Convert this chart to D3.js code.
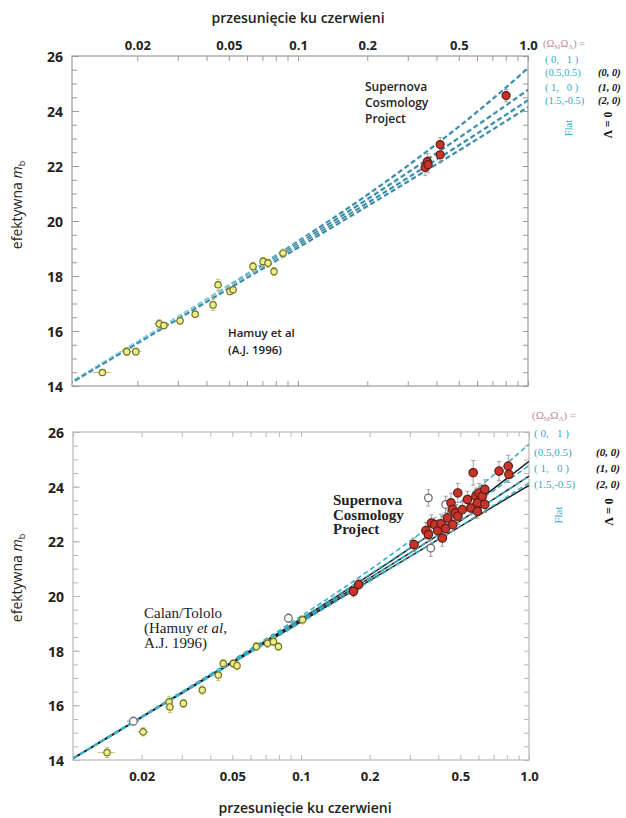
<!DOCTYPE html>
<html>
<head>
<meta charset="utf-8">
<script src="https://cdn.jsdelivr.net/npm/d3@7"></script>
<style>
  body { margin: 0; background: #fff; }
  svg { display: block; }
  text { font-family: "Open Sans", sans-serif; fill: #222; }
  .serif { font-family: "Liberation Serif", "DejaVu Serif", serif; }
  .tick text { font-weight: 700; }
</style>
</head>
<body>
<svg id="chart" width="626" height="818"></svg>
<script>

// Model curves, magnitude at each redshift for (Omega_M, Omega_Lambda)
var modelZ     = [0.01, 0.02, 0.05, 0.1, 0.2, 0.3, 0.5, 0.7, 1.0];
var flat_0_1   = [14.07, 15.60, 17.65, 19.26, 20.95, 22.01, 23.43, 24.43, 25.56];
var flat_05_05 = [14.06, 15.58, 17.61, 19.18, 20.79, 21.76, 23.02, 23.86, 24.77];
var flat_1_0   = [14.06, 15.57, 17.57, 19.10, 20.65, 21.57, 22.75, 23.54, 24.39];
var flat_15_m05= [14.05, 15.55, 17.54, 19.03, 20.54, 21.43, 22.56, 23.32, 24.14];
var open_0_0   = [14.06, 15.58, 17.60, 19.16, 20.76, 21.74, 23.03, 23.93, 24.93];
var open_1_0   = [14.06, 15.57, 17.57, 19.10, 20.65, 21.57, 22.75, 23.54, 24.39];
var open_2_0   = [14.05, 15.56, 17.55, 19.05, 20.56, 21.44, 22.55, 23.28, 24.05];

// Top panel: Hamuy et al low-z sample
var topLowZ   = [0.0141, 0.0180, 0.0197, 0.0249, 0.0261, 0.0307, 0.0357, 0.0427, 0.0449, 0.0506, 0.0522, 0.0637, 0.0705, 0.0740, 0.0786, 0.0861];
var topLowM   = [14.49, 15.25, 15.25, 16.26, 16.20, 16.37, 16.61, 16.95, 17.68, 17.44, 17.50, 18.35, 18.53, 18.47, 18.16, 18.83];
var topLowErr = [0.10, 0.15, 0.12, 0.15, 0.12, 0.12, 0.12, 0.20, 0.20, 0.12, 0.12, 0.15, 0.15, 0.15, 0.15, 0.15];

// Top panel: first Supernova Cosmology Project supernovae
var topScpZ   = [0.357, 0.365, 0.368, 0.415, 0.415, 0.803];
var topScpM   = [21.95, 22.16, 22.05, 22.78, 22.41, 24.56];
var topScpErr = [0.30, 0.30, 0.30, 0.25, 0.30, 0.22];

// Bottom panel: Calan/Tololo sample
var botLowZ   = [0.0141, 0.0203, 0.0264, 0.0266, 0.0305, 0.0369, 0.0434, 0.0456, 0.0505, 0.0524, 0.0637, 0.0713, 0.0757, 0.0796, 0.1016];
var botLowM   = [14.27, 15.03, 16.13, 15.94, 16.07, 16.56, 17.11, 17.53, 17.53, 17.45, 18.15, 18.27, 18.33, 18.15, 19.13];
var botLowErr = [0.18, 0.15, 0.20, 0.20, 0.15, 0.15, 0.20, 0.15, 0.15, 0.15, 0.15, 0.15, 0.15, 0.15, 0.15];
var botLowOutZ = [0.0184, 0.0881];
var botLowOutM = [15.42, 19.19];

// Bottom panel: Supernova Cosmology Project
var botScpZ   = [0.170, 0.179, 0.313, 0.353, 0.362, 0.373, 0.386, 0.398, 0.411, 0.417,
                 0.431, 0.439, 0.455, 0.463, 0.463, 0.475, 0.487, 0.487, 0.510, 0.537,
                 0.556, 0.569, 0.585, 0.594, 0.594, 0.604, 0.624, 0.640, 0.640, 0.739,
                 0.811, 0.816];
var botScpM   = [20.17, 20.42, 21.88, 22.39, 22.25, 22.67, 22.61, 22.39, 22.64, 22.12,
                 22.47, 22.86, 23.41, 23.16, 22.61, 23.04, 22.92, 23.77, 23.16, 23.53,
                 23.22, 24.51, 23.65, 23.41, 23.10, 23.77, 23.65, 23.90, 23.35, 24.57,
                 24.75, 24.45];
var botScpErr = [0.20, 0.20, 0.25, 0.30, 0.25, 0.30, 0.25, 0.30, 0.35, 0.30,
                 0.25, 0.30, 0.35, 0.30, 0.25, 0.30, 0.30, 0.35, 0.30, 0.30,
                 0.25, 0.45, 0.30, 0.30, 0.25, 0.35, 0.30, 0.35, 0.30, 0.35,
                 0.40, 0.30];
var botScpOutZ = [0.362, 0.371, 0.431];
var botScpOutM = [23.59, 21.75, 23.35];

var zLabels = [0.02, 0.05, 0.1, 0.2, 0.5, 1.0];
var mLabels = [14, 16, 18, 20, 22, 24, 26];
var mMinor  = d3.range(14, 26.01, 0.5);

var flatModels = [flat_0_1, flat_05_05, flat_1_0, flat_15_m05];
var openModels = [open_0_0, open_1_0, open_2_0];

var svg = d3.select("#chart");

function zip(zs, ms, errs) {
  return zs.map(function(z, i) { return { z: z, m: ms[i], e: errs ? errs[i] : 0.15 }; });
}

// draws one panel: frame, ticks, model curves and points
function drawPanel(opt) {
  var g = svg.append("g");
  var x = d3.scaleLog().domain(opt.zDomain).range([opt.left, opt.right]);
  var y = d3.scaleLinear().domain([14, 26]).range([opt.bottom, opt.top]);

  g.append("clipPath").attr("id", opt.id + "clip")
    .append("rect")
    .attr("x", opt.left).attr("y", opt.top)
    .attr("width", opt.right - opt.left).attr("height", opt.bottom - opt.top);

  g.append("rect")
    .attr("x", opt.left).attr("y", opt.top)
    .attr("width", opt.right - opt.left).attr("height", opt.bottom - opt.top)
    .attr("fill", "none").attr("stroke", opt.frame).attr("stroke-width", 1.2);

  var fmt = function(d) { return d === 1 ? "1.0" : String(d); };

  // minor ticks on all four sides
  var axes = [
    [d3.axisTop(x).tickValues(x.ticks()), "translate(0," + opt.top + ")"],
    [d3.axisBottom(x).tickValues(x.ticks()), "translate(0," + opt.bottom + ")"],
    [d3.axisLeft(y).tickValues(mMinor), "translate(" + opt.left + ",0)"],
    [d3.axisRight(y).tickValues(mMinor), "translate(" + opt.right + ",0)"]
  ];
  axes.forEach(function(a) {
    var ax = g.append("g").attr("transform", a[1])
      .call(a[0].tickSize(-5).tickFormat(""));
    ax.select(".domain").remove();
    ax.selectAll("line").attr("stroke", opt.frame);
  });

  // labelled axes
  var xl = opt.labelsTop
    ? d3.axisTop(x).tickValues(zLabels).tickSize(0).tickPadding(6).tickFormat(fmt)
    : d3.axisBottom(x).tickValues(zLabels).tickSize(0).tickPadding(12).tickFormat(fmt);
  var xa = g.append("g")
    .attr("transform", "translate(0," + (opt.labelsTop ? opt.top : opt.bottom) + ")")
    .call(xl);
  xa.select(".domain").remove();
  xa.selectAll("text").attr("font-size", 13).attr("font-family", "Open Sans").attr("fill", "#222");

  var ya = g.append("g").attr("transform", "translate(" + opt.left + ",0)")
    .call(d3.axisLeft(y).tickValues(mLabels).tickSize(-7).tickPadding(9));
  ya.select(".domain").remove();
  ya.selectAll("line").attr("stroke", opt.frame);
  ya.selectAll("text").attr("font-size", 14).attr("font-family", "Open Sans").attr("fill", "#222")
    .attr("dy", "0.4em");

  // model curves
  var line = d3.line()
    .x(function(d) { return x(d.z); })
    .y(function(d) { return y(d.m); })
    .curve(d3.curveMonotoneX);

  var curves = g.append("g").attr("clip-path", "url(#" + opt.id + "clip)");

  if (opt.showOpen) {
    openModels.forEach(function(ms) {
      curves.append("path")
        .datum(zip(modelZ, ms))
        .attr("d", line)
        .attr("fill", "none")
        .attr("stroke", "#1e1e1e")
        .attr("stroke-width", 1.5);
    });
  }
  flatModels.forEach(function(ms) {
    if (opt.flatUnder) {
      curves.append("path")
        .datum(zip(modelZ, ms))
        .attr("d", line)
        .attr("fill", "none")
        .attr("stroke", opt.flatUnder)
        .attr("stroke-width", 3)
        .attr("stroke-dasharray", "5,3");
    }
    curves.append("path")
      .datum(zip(modelZ, ms))
      .attr("d", line)
      .attr("fill", "none")
      .attr("stroke", opt.flatColor)
      .attr("stroke-width", opt.flatWidth)
      .attr("stroke-dasharray", "5,3");
  });

  // error bars and markers
  function points(data, style) {
    var pg = g.append("g");
    var eb = pg.selectAll("g.err").data(data).enter().append("g").attr("class", "err")
      .attr("stroke", style.bar).attr("stroke-width", 1);
    eb.append("line")
      .attr("x1", function(d) { return x(d.z); }).attr("x2", function(d) { return x(d.z); })
      .attr("y1", function(d) { return y(d.m - d.e); }).attr("y2", function(d) { return y(d.m + d.e); });
    eb.append("line")
      .attr("x1", function(d) { return x(d.z) - 2; }).attr("x2", function(d) { return x(d.z) + 2; })
      .attr("y1", function(d) { return y(d.m - d.e); }).attr("y2", function(d) { return y(d.m - d.e); });
    eb.append("line")
      .attr("x1", function(d) { return x(d.z) - 2; }).attr("x2", function(d) { return x(d.z) + 2; })
      .attr("y1", function(d) { return y(d.m + d.e); }).attr("y2", function(d) { return y(d.m + d.e); });
    if (style.zErr) {
      eb.append("line")
        .attr("x1", function(d) { return x(d.z - style.zErr); }).attr("x2", function(d) { return x(d.z + style.zErr); })
        .attr("y1", function(d) { return y(d.m); }).attr("y2", function(d) { return y(d.m); });
    }
    pg.selectAll("circle").data(data).enter().append("circle")
      .attr("cx", function(d) { return x(d.z); })
      .attr("cy", function(d) { return y(d.m); })
      .attr("r", style.r)
      .attr("fill", style.fill)
      .attr("stroke", style.stroke)
      .attr("stroke-width", 1.2);
  }

  var lowStyle = { bar: "#c9c25a", fill: "#f1ee86", stroke: "#6d7432", r: 3.2, zErr: 0.0012 };
  var outStyle = { bar: "#9a9a9a", fill: "#fff", stroke: "#666", r: 3.8, zErr: 0.0012 };
  var scpStyle = { bar: "#a0a0a0", fill: "#c8342a", stroke: "#5e1b12", r: opt.scpR };

  if (opt.lowOut) points(opt.lowOut, outStyle);
  points(opt.low, lowStyle);
  if (opt.scpOut) points(opt.scpOut, Object.assign({}, outStyle, { zErr: 0 }));
  points(opt.scp, scpStyle);

  // y axis title
  var yt = g.append("text")
    .attr("transform", "translate(" + opt.yTitleX + "," + opt.yTitleY + ") rotate(-90)")
    .attr("text-anchor", "middle")
    .attr("font-size", 14);
  yt.append("tspan").text("efektywna ");
  yt.append("tspan").attr("font-style", "italic").text("m");
  yt.append("tspan").attr("font-size", 9).attr("dy", 3).text("b");

  return g;
}

var topPanel = drawPanel({
  id: "top", zDomain: [0.0104, 1.0], left: 72, right: 528, top: 56, bottom: 386,
  frame: "#9a9a9a", labelsTop: true, showOpen: false,
  flatColor: "#3a7590", flatWidth: 1.4, flatUnder: "#92d8e8", scpR: 4,
  low: zip(topLowZ, topLowM, topLowErr),
  scp: zip(topScpZ, topScpM, topScpErr),
  yTitleX: 22, yTitleY: 205
});

var bottomPanel = drawPanel({
  id: "bot", zDomain: [0.01, 1.0], left: 73, right: 529, top: 432, bottom: 760,
  frame: "#b8b8b8", labelsTop: false, showOpen: true,
  flatColor: "#3bb0c9", flatWidth: 1.6, flatUnder: null, scpR: 4.2,
  low: zip(botLowZ, botLowM, botLowErr),
  lowOut: zip(botLowOutZ, botLowOutM),
  scp: zip(botScpZ, botScpM, botScpErr),
  scpOut: zip(botScpOutZ, botScpOutM, [0.3, 0.3, 0.3]),
  yTitleX: 22, yTitleY: 578
});

// axis titles
svg.append("text").attr("x", 298).attr("y", 23).attr("text-anchor", "middle")
  .attr("font-size", 14).attr("font-weight", 600).text("przesunięcie ku czerwieni");
svg.append("text").attr("x", 305).attr("y", 813).attr("text-anchor", "middle")
  .attr("font-size", 14).attr("font-weight", 600).text("przesunięcie ku czerwieni");

// panel annotations
function lines(g, x, y0, step, rows, attrs) {
  var t = g.append("g");
  rows.forEach(function(r, i) {
    var el = t.append("text").attr("x", x).attr("y", y0 + i * step);
    Object.keys(attrs).forEach(function(k) { el.attr(k, attrs[k]); });
    r.forEach(function(part) {
      var s = el.append("tspan").text(part[0]);
      if (part[1]) s.attr("font-style", "italic");
    });
  });
}

lines(topPanel, 365, 91, 16, [[["Supernova"]], [["Cosmology"]], [["Project"]]],
  { "font-size": 12, "font-weight": 600 });
lines(topPanel, 228, 337, 16.5, [[["Hamuy et al"]], [["(A.J. 1996)"]]],
  { "font-size": 11.5, "font-weight": 600 });
lines(bottomPanel, 333, 505, 14.5, [[["Supernova"]], [["Cosmology"]], [["Project"]]],
  { "font-size": 15, "font-weight": 700, "class": "serif" });
lines(bottomPanel, 144, 618, 15, [[["Calan/Tololo"]], [["(Hamuy "], ["et al", true], [","]], [["A.J. 1996)"]]],
  { "font-size": 15, "class": "serif" });

// legends
function legend(g, opt) {
  var h = g.append("text").attr("class", "serif").attr("x", opt.x).attr("y", opt.y)
    .attr("font-size", opt.size).style("fill", "#c08a9a");
  h.append("tspan").text("(Ω");
  h.append("tspan").attr("font-size", opt.size * 0.65).attr("dy", 2).text("M");
  h.append("tspan").attr("dy", -2).text("Ω");
  h.append("tspan").attr("font-size", opt.size * 0.65).attr("dy", 2).text("Λ");
  h.append("tspan").attr("dy", -2).text(") =");

  g.selectAll(null).data(opt.flat).enter().append("text")
    .attr("class", "serif")
    .attr("x", opt.x + 2)
    .attr("y", function(d, i) { return opt.rows[i]; })
    .attr("font-size", opt.size)
    .style("fill", "#35a9c6")
    .style("white-space", "pre")
    .text(function(d) { return d; });

  g.selectAll(null).data(opt.open).enter().append("text")
    .attr("class", "serif")
    .attr("x", opt.x2)
    .attr("y", function(d, i) { return opt.rows[i + 1]; })
    .attr("font-size", opt.size)
    .attr("font-style", "italic").attr("font-weight", 700)
    .style("fill", "#111")
    .text(function(d) { return d; });

  g.append("text").attr("class", "serif")
    .attr("transform", "translate(" + opt.flatPos[0] + "," + opt.flatPos[1] + ") rotate(-90)")
    .attr("text-anchor", "middle").attr("font-size", opt.size)
    .style("fill", "#35a9c6").text("Flat");
  g.append("text").attr("class", "serif")
    .attr("transform", "translate(" + opt.lamPos[0] + "," + opt.lamPos[1] + ") rotate(-90)")
    .attr("text-anchor", "middle").attr("font-size", opt.size + 1).attr("font-weight", 700)
    .style("fill", "#111").text("Λ = 0");
}

var flatLabels = ["( 0,   1 )", "(0.5,0.5)", "( 1,   0 )", "(1.5,-0.5)"];
var openLabels = ["(0, 0)", "(1, 0)", "(2, 0)"];

legend(topPanel, { x: 543, y: 47, x2: 598, size: 10.5, rows: [63, 76, 91, 104],
  flat: flatLabels, open: openLabels, flatPos: [572, 128], lamPos: [612, 125] });
legend(bottomPanel, { x: 532, y: 419, x2: 596, size: 11, rows: [437, 456, 472, 488],
  flat: flatLabels, open: openLabels, flatPos: [562, 515], lamPos: [613, 512] });

</script>
</body>
</html>
